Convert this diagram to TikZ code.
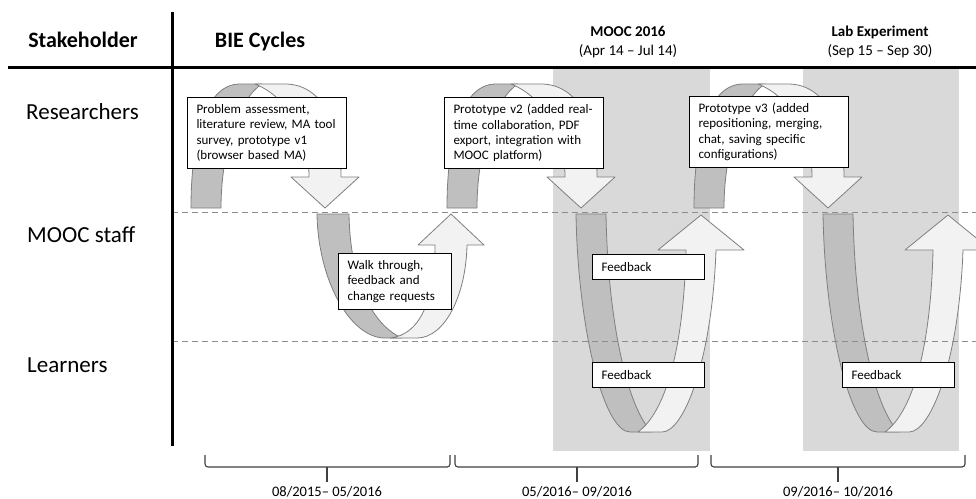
\documentclass[tikz,border=0pt]{standalone}
\usepackage{fontspec}
\setmainfont{Carlito}
\definecolor{bandDark}{HTML}{BFBFBF}
\definecolor{bandLight}{HTML}{F2F2F2}
\definecolor{bandLine}{HTML}{7F7F7F}
\definecolor{colGray}{HTML}{D9D9D9}
\definecolor{sepGray}{HTML}{8C8C8C}
\definecolor{braceGray}{HTML}{404040}
\newcommand{\myArch}[1]{%
  \begin{scope}[xshift=#1pt]
    \path[darkband] (191,208) .. controls (191,140) and (205,84) .. (240,84) -- (262,84) .. controls (242,96) and (221,145) .. (221,208) -- cycle;
    \path[lightband] (255,84) -- (285,84) .. controls (320,84) and (341,120) .. (341,177) -- (359,177) -- (325,208) -- (291,177) -- (309,177) .. controls (309,130) and (285,96) .. (255,84) -- cycle;
  \end{scope}}
\newcommand{\myBigU}[1]{%
  \begin{scope}[xshift=#1pt]
    \path[darkband] (576,214) .. controls (578,330) and (604,432) .. (630,432) -- (652,432) .. controls (630,412) and (608,330) .. (606,214) -- cycle;
    \path[lightband] (686,250) .. controls (684,340) and (668,410) .. (638,432) -- (662,432) .. controls (684,432) and (712,360) .. (716,250) -- (744,250) -- (701,215) -- (658,250) -- cycle;
  \end{scope}}
\begin{document}
\begin{tikzpicture}[x=1pt,y=-1pt,
  darkband/.style={fill=bandDark, draw=bandLine, line width=0.8pt, line join=round},
  lightband/.style={fill=bandLight, draw=bandLine, line width=0.8pt, line join=round},
  txtbox/.style={draw=black, line width=1pt, fill=white, align=left, anchor=north west,
    font=\fontsize{13}{15.4}\selectfont, inner xsep=9pt, inner ysep=3pt},
  sepline/.style={draw=sepGray, line width=0.9pt, dash pattern=on 6pt off 4pt},
  thickline/.style={draw=black, line width=3pt},
  bracepath/.style={draw=braceGray, line width=1.1pt, rounded corners=3pt},
  rowlbl/.style={anchor=base west, font=\fontsize{23}{27}\selectfont, inner sep=0pt},
  headlbl/.style={anchor=base, font=\fontsize{22}{26}\selectfont\bfseries, inner sep=0pt},
  collbl/.style={anchor=base, font=\fontsize{15}{18}\selectfont\bfseries, inner sep=0pt},
  colsub/.style={anchor=base, font=\fontsize{15}{18}\selectfont, inner sep=0pt},
  datelbl/.style={anchor=base, font=\fontsize{14.5}{17}\selectfont, inner sep=0pt}]
\useasboundingbox (0,0) rectangle (976,498);
\fill[white] (0,0) rectangle (976,498);

% shaded event columns
\fill[colGray] (553,67) rectangle (710,451);
\fill[colGray] (803,67) rectangle (959,451);

% cycle arrows
\myArch{0}
\myArch{256}
\myArch{503}
\path[darkband] (317,214) .. controls (318,280) and (350,338) .. (385,338) -- (402,338) .. controls (372,325) and (350,280) .. (349,214) -- cycle;
\path[lightband] (435,245) .. controls (435,300) and (420,335) .. (390,338) -- (417,338) .. controls (445,338) and (466,295) .. (467,245) -- (484,245) -- (451,214) -- (418,245) -- cycle;
\myBigU{0}
\myBigU{247}

% lane separators
\coordinate (s1a) at (172,212); \coordinate (s1b) at (976,212);
\coordinate (s2a) at (172,341); \coordinate (s2b) at (976,341);
\draw[sepline] (s1a) -- (s1b);
\draw[sepline] (s2a) -- (s2b);

% table frame
\coordinate (hl) at (8,67); \coordinate (hr) at (976,67);
\coordinate (vt) at (172,12); \coordinate (vb) at (172,446);
\draw[thickline] (hl) -- (hr);
\draw[thickline] (vt) -- (vb);

% headers
\node[headlbl] (hStake) at (83,47) {Stakeholder};
\node[headlbl] (hBIE) at (260,47) {BIE Cycles};
\node[collbl] (hMooc) at (628,36) {MOOC 2016};
\node[colsub] (hMoocD) at (628,55) {(Apr 14 – Jul 14)};
\node[collbl] (hLab) at (880,36) {Lab Experiment};
\node[colsub] (hLabD) at (880,55) {(Sep 15 – Sep 30)};

% row labels
\node[rowlbl] (rRes) at (26,119) {Researchers};
\node[rowlbl] (rStaff) at (27,242) {MOOC staff};
\node[rowlbl] (rLearn) at (27,372) {Learners};

% text boxes
\node[txtbox, text width=141pt, minimum height=71pt] (b1) at (187,97) {Problem assessment,\\literature review, MA tool\\survey, prototype v1\\(browser based MA)};
\node[txtbox, text width=141pt, minimum height=71pt] (b2) at (444,97) {Prototype v2 (added real-\\time collaboration, PDF\\export, integration with\\MOOC platform)};
\node[txtbox, text width=141pt, minimum height=71pt] (b3) at (689,96) {Prototype v3 (added\\repositioning, merging,\\chat, saving specific\\configurations)};
\node[txtbox, text width=95pt, minimum height=56pt] (bw) at (338,253) {Walk through,\\feedback and\\change requests};
\node[txtbox, text width=94pt, minimum height=25pt] (f1) at (592,254) {Feedback};
\node[txtbox, text width=94pt, minimum height=25pt] (f2) at (592,362) {Feedback};
\node[txtbox, text width=94pt, minimum height=25pt] (f3) at (842,362) {Feedback};

% period braces
\draw[bracepath] (205,455) -- (205,467) -- (450,467) -- (450,455);
\draw[bracepath] (327,467) -- (327,482);
\draw[bracepath] (455,455) -- (455,467) -- (698,467) -- (698,455);
\draw[bracepath] (577,467) -- (577,482);
\draw[bracepath] (711,455) -- (711,467) -- (965,467) -- (965,455);
\draw[bracepath] (838,467) -- (838,482);
\node[datelbl] (d1) at (327,496) {08/2015– 05/2016};
\node[datelbl] (d2) at (577,496) {05/2016– 09/2016};
\node[datelbl] (d3) at (838,496) {09/2016– 10/2016};
\end{tikzpicture}
\end{document}
